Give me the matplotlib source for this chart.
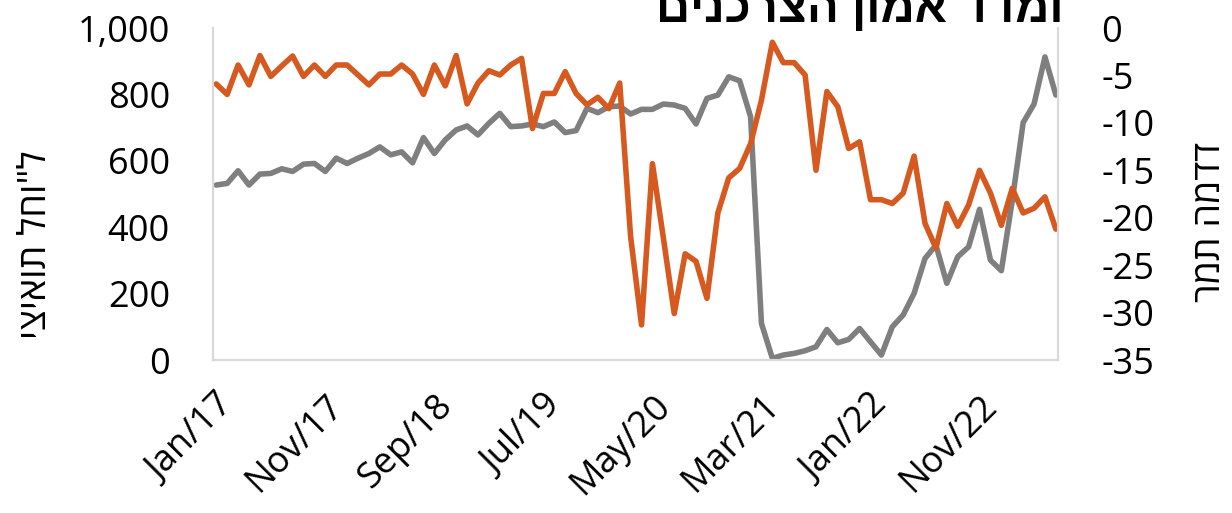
import matplotlib
matplotlib.use("Agg")
import matplotlib.pyplot as plt
import numpy as np

plt.rcParams['font.family'] = ['Open Sans', 'Liberation Sans', 'DejaVu Sans']

# monthly series, Jan/17 .. Jun/23
months = ['Jan', 'Feb', 'Mar', 'Apr', 'May', 'Jun',
          'Jul', 'Aug', 'Sep', 'Oct', 'Nov', 'Dec']
dates = [f"{months[k % 12]}/{17 + k // 12}" for k in range(78)]

# outbound departures (thousands), left axis
departures = [527, 532, 570, 527, 560, 562, 576, 568, 590, 592,
              568, 608, 592, 608, 622, 642, 618, 627, 594, 670,
              622, 663, 693, 705, 678, 713, 743, 703, 705, 711,
              703, 717, 685, 691, 758, 745, 763, 765, 741, 755,
              755, 771, 768, 758, 711, 788, 798, 853, 841, 733,
              110, 5, 15, 20, 28, 40, 92, 52, 62, 95,
              55, 15, 100, 136, 201, 306, 346, 231, 311, 341,
              454, 301, 269, 480, 715, 771, 913, 798]

# consumer confidence index, right axis
confidence = [-5.9, -7.0, -3.9, -6.0, -2.9, -5.1, -4.0, -2.95, -5.1, -3.9,
              -5.1, -3.9, -3.9, -4.95, -6.0, -4.85, -4.85, -3.9, -4.85, -7.0,
              -3.9, -6.1, -2.9, -8.0, -5.8, -4.5, -4.95, -3.9, -3.2, -10.6,
              -6.9, -6.9, -4.6, -6.9, -8.1, -7.3, -8.5, -5.8, -22.0, -31.3,
              -14.3, -22.1, -30.1, -23.8, -24.6, -28.5, -19.5, -15.8, -14.8, -12.2,
              -7.6, -1.5, -3.65, -3.65, -4.95, -15.0, -6.7, -8.3, -12.7, -12.0,
              -18.1, -18.1, -18.5, -17.4, -13.5, -20.6, -23.2, -18.5, -20.9, -18.65,
              -15.0, -17.4, -20.8, -16.9, -19.5, -19.0, -17.8, -21.2]

left_ticks = [0, 200, 400, 600, 800, 1000]
right_ticks = [0, -5, -10, -15, -20, -25, -30, -35]

title_line = "ומדד אמון הצרכנים"
left_label = "יציאות לחו\"ל"
right_label = "רמת המדד"

gray = '#7f7f7f'
orange = '#d65a1f'
frame = '#d9d9d9'

fig = plt.figure(figsize=(12.32, 5.13), dpi=100)
ax = fig.add_axes([0.1729, 0.2982, 0.6859, 0.6472])
ax2 = ax.twinx()

x = np.arange(len(dates))
ax.plot(x, departures, color=gray, lw=4, solid_joinstyle='round', solid_capstyle='round')
ax2.plot(x, confidence, color=orange, lw=4, solid_joinstyle='round', solid_capstyle='round')

ax.set_xlim(-0.3, len(dates) - 1 + 0.2)
ax.set_ylim(0, 1000)
ax2.set_ylim(-35, 0)

ax.set_yticks(left_ticks)
ax.set_yticklabels([f"{v:,}" for v in left_ticks])
ax2.set_yticks(right_ticks)
ax2.set_yticklabels([str(v) for v in right_ticks])

tick_idx = list(range(0, len(dates), 10))
ax.set_xticks(tick_idx)
ax.set_xticklabels([dates[i] for i in tick_idx], rotation=45, ha='right',
                   rotation_mode='anchor')

for a in (ax, ax2):
    a.tick_params(length=0, labelsize=26, colors='black')
    a.spines['top'].set_visible(False)
    for s in ('left', 'right', 'bottom'):
        a.spines[s].set_color(frame)
        a.spines[s].set_linewidth(1.5)
ax.tick_params(axis='y', pad=31)
ax2.tick_params(axis='y', pad=31)
ax.tick_params(axis='x', pad=20)

# axis titles, placed in figure coordinates
fig.text(0.029, 0.524, left_label, fontsize=27, rotation=90,
         ha='center', va='center')
fig.text(0.982, 0.567, right_label, fontsize=27, rotation=90,
         ha='center', va='center')

# matplotlib lays text out left to right, so the RTL title is reversed
fig.text(0.698, 0.957, title_line[::-1], fontsize=34, fontweight='bold',
         ha='center', va='baseline', family=['Liberation Sans', 'DejaVu Sans'])

fig.savefig('out.png', dpi=100, facecolor='white')
